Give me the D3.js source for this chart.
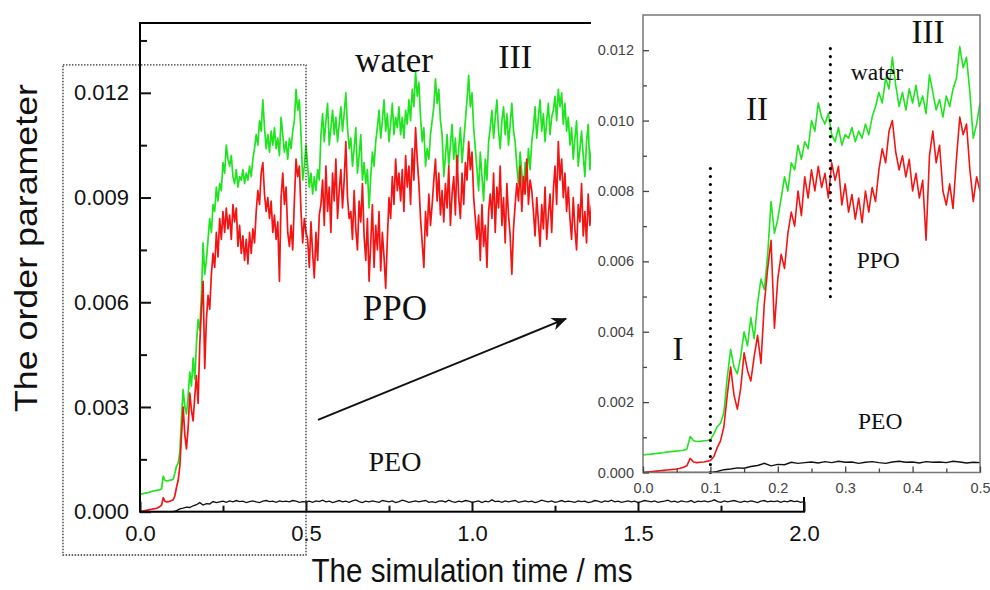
<!DOCTYPE html>
<html>
<head>
<meta charset="utf-8">
<script src="https://cdn.jsdelivr.net/npm/d3@7"></script>
<style>
  body { margin: 0; background: #fff; }
  svg { display: block; }
</style>
</head>
<body>
<div id="chart"></div>
<script>
// order parameter samples, in units of 1e-4
const unit = 1e-4
const stepWP = 0.005   // ms between water / PPO samples
const stepPEO = 0.01   // ms between PEO samples

const water = [
  5.0, 5.1, 5.2, 5.3, 5.4, 5.5, 5.6, 5.8, 5.9, 6.0, 6.1, 6.2, 6.3, 6.6, 10.2, 9.0, 8.8, 8.9, 9.0, 9.1, 9.3,
  11, 13, 14, 17, 27, 35, 30, 28, 33, 40,
  36, 44, 38, 48, 55, 52, 62, 77, 68, 72,
  78, 84, 80, 88, 86, 93, 89, 94, 92, 100,
  97, 105, 101, 99, 102, 96, 94, 98, 93, 96,
  95, 98, 94, 97, 95, 99, 96, 101, 104, 108,
  105, 112, 109, 118, 110, 104, 108, 103, 109, 105,
  110, 104, 107, 102, 113, 108, 103, 106, 101, 107,
  104, 109, 112, 121, 115, 118, 108, 95, 99, 105,
  99, 93, 97, 91, 96, 92, 98, 95,
  108, 114, 106, 112, 117, 105, 110, 115, 108, 113, 106, 111, 116, 109, 114, 120, 110, 104,
  107, 99, 104, 110, 97, 102, 108, 95, 100, 94, 98, 87, 96, 103, 99, 106,
  110, 115, 107, 112, 118, 109, 114, 106, 111, 117, 108, 113, 110, 116,
  108, 113, 107, 115, 111, 118, 112, 121, 116, 126, 119, 123,
  113, 106, 110, 99, 104, 101, 108, 112,
  116, 124, 117, 121, 112, 108,
  96, 102, 108, 99, 105, 111, 101, 107, 97, 104, 110, 100, 106, 112,
  118, 125, 116, 120, 110, 104,
  98, 92, 103, 96, 89, 101, 95, 106,
  110, 115, 107, 113, 118, 109, 104, 112, 116, 108, 114, 105, 111, 117, 109, 106,
  99, 94, 103, 97, 91, 100, 95, 104, 98, 106,
  110, 116, 107, 113, 118, 109, 114, 106, 112, 117, 108, 113,
  115, 119, 112, 121, 116, 120, 111, 117, 109, 113,
  105, 110, 101, 107, 112, 99, 104, 109, 102, 96, 106, 111, 98, 104
]

const ppo = [
  0, 0.1, 0.2, 0.3, 0.4, 0.5, 0.6, 0.7, 0.8, 0.9, 1.0, 1.2, 1.5, 1.9, 4.0, 3.0, 2.8, 2.9, 3.0, 3.2, 3.4,
  4.5, 7, 9, 13, 22, 30, 22, 18, 24, 34,
  29, 26, 33, 39, 31, 48, 58, 66, 41, 55,
  62, 58, 68, 74, 70, 80, 73, 84, 78, 86,
  80, 87, 81, 85, 78, 88, 83, 87, 76, 82,
  74, 79, 72, 78, 71, 80, 74, 81, 77, 86,
  92, 88, 97, 100, 91, 86, 90, 84, 89, 80,
  85, 78, 83, 66, 90, 97, 88, 93, 80, 76,
  82, 75, 89, 101, 96, 99, 86, 77, 84, 80,
  78, 70, 83, 74, 67, 80, 72, 85,
  88, 95, 82, 99, 86, 93, 80, 97, 89, 101, 84, 92, 98, 87, 95, 106, 90, 84,
  86, 78, 92, 81, 75, 89, 83, 94, 79, 72, 84, 66, 77, 88, 70, 82,
  75, 86, 69, 80, 73, 64, 78, 90, 84, 96, 88, 101, 92, 97,
  89, 98, 86, 102, 93, 99, 88, 104, 95, 110, 101, 94,
  84, 77, 70, 86, 79, 91, 82, 88,
  95, 101, 89, 97, 85, 92,
  83, 94, 87, 99, 82, 91, 96, 85, 102, 90, 84, 97, 88, 100,
  95, 106, 98, 103, 90, 84,
  78, 85, 72, 88, 76, 82, 70, 86,
  91, 84, 97, 80, 93, 87, 99, 82, 90, 77, 94, 85, 79, 68, 81, 88,
  94, 89, 99, 86, 96, 91, 101, 88, 95, 92,
  86, 79, 90, 83, 76, 88, 81, 93, 78, 85, 91, 80,
  92, 99, 88, 106, 95, 101, 90, 97, 86, 93,
  84, 78, 90, 81, 75, 88, 83, 94, 79, 86, 77, 91, 82, 88
]

const peo = [
  0, 0, 0, 0, 0, 0, 0, 0, 0, 0, 0,
  0.3, 0.8, 1.0, 1.3, 1.2, 1.7, 2.0, 2.6, 1.9, 2.3,
  2.2, 2.9, 2.6, 2.8, 3.0, 2.7, 3.1, 2.8, 3.2, 2.9,
  3.0, 2.6, 2.9, 3.1, 2.8, 2.6, 3.0, 3.2, 2.9, 3.0,
  2.7, 3.1, 2.9, 3.0, 2.8, 3.2, 3.0, 2.7, 2.9, 2.8,
  3.0, 2.7, 3.1, 2.9, 3.3, 2.8, 3.0, 2.6, 2.9, 3.2,
  2.8, 3.0, 2.7, 3.1, 3.4, 2.9, 2.6, 3.0, 2.8, 3.1,
  2.9, 2.7, 3.2, 3.0, 2.8, 3.1, 2.6, 2.9, 3.3, 3.0,
  2.7, 2.9, 3.1, 2.8, 3.0, 3.2, 2.7, 2.9, 2.6, 3.0,
  3.1, 2.8, 3.3, 2.9, 2.7, 3.0, 2.8, 3.2, 3.0, 2.7,
  2.9, 3.1, 2.6, 3.0, 2.8, 3.4, 2.9, 3.0, 2.7, 3.1,
  2.8, 3.0, 3.2, 2.7, 2.9, 3.1, 2.8, 3.0, 2.6, 2.9,
  3.3, 3.0, 2.8, 3.1, 2.7, 2.9, 3.2, 2.8, 3.0, 2.9,
  2.7, 3.1, 2.9, 3.0, 2.6, 2.8, 3.2, 3.0, 2.7, 3.1,
  2.9, 3.3, 2.8, 3.0, 2.7, 2.9, 3.1, 2.8, 3.0, 2.6,
  2.9, 3.2, 3.0, 2.8, 3.1, 2.7, 2.9, 3.0, 3.3, 2.8,
  3.0, 2.7, 3.1, 2.9, 2.8, 3.2, 2.6, 3.0, 2.9, 3.1,
  2.8, 3.0, 3.4, 2.9, 2.7, 3.1, 2.8, 3.0, 3.2, 2.9,
  2.7, 3.0, 2.8, 3.1, 2.9, 2.6, 3.0, 3.2, 2.8, 3.0,
  2.9, 3.1, 2.7, 3.0, 2.8, 3.2, 2.9, 3.0, 2.7, 2.9
]

const mainXTicks = [0, 0.5, 1.0, 1.5, 2.0]
const mainXMinor = [0.25, 0.75, 1.25, 1.75]
const mainYTicks = [0, 0.003, 0.006, 0.009, 0.012]
const mainYMinor = [0.0015, 0.0045, 0.0075, 0.0105, 0.0135]
const insetXTicks = [0, 0.1, 0.2, 0.3, 0.4, 0.5]
const insetXMinor = [0.05, 0.15, 0.25, 0.35, 0.45]
const insetYTicks = [0, 0.002, 0.004, 0.006, 0.008, 0.010, 0.012]
const insetYMinor = [0.001, 0.003, 0.005, 0.007, 0.009, 0.011]

// annotations in data coords
const mainNotes = [
  { text: "water", t: 0.765, v: 0.0126, size: 35 },
  { text: "III", t: 1.13, v: 0.01272, size: 34 },
  { text: "PPO", t: 0.768, v: 0.0055, size: 35 },
  { text: "PEO", t: 0.768, v: 0.00117, size: 28 }
]
const insetNotes = [
  { text: "III", t: 0.423, v: 0.0122, size: 33 },
  { text: "II", t: 0.169, v: 0.01002, size: 33 },
  { text: "water", t: 0.347, v: 0.01115, size: 23.5 },
  { text: "PPO", t: 0.349, v: 0.00581, size: 23.5 },
  { text: "PEO", t: 0.352, v: 0.00124, size: 23.5 },
  { text: "I", t: 0.052, v: 0.0032, size: 33 }
]
const dividers = [
  { t: 0.1, v0: 0, v1: 0.0087 },
  { t: 0.278, v0: 0.005, v1: 0.0122 }
]
const arrowFrom = { t: 0.536, v: 0.00263 }, arrowTo = { t: 1.283, v: 0.00553 }
const zoomBox = { t0: -0.232, t1: 0.5, v0: -0.00124, v1: 0.0128 }

const sans = "'Liberation Sans', Arial, sans-serif"
const serif = "'Liberation Serif', 'Times New Roman', serif"
const green = "#1fe41f", red = "#f31414"

let svg = d3.select("#chart").append("svg").attr("width", 990).attr("height", 590)

let x = d3.scaleLinear().domain([0, 2]).range([140, 804])
let y = d3.scaleLinear().domain([0, 0.014]).range([511.7, 23])
let xi = d3.scaleLinear().domain([0, 0.5]).range([643, 980])
let yi = d3.scaleLinear().domain([0, 0.013]).range([472.5, 15])

let toPts = (vals, step) => vals.map((v, i) => ({ t: i * step, v: v * unit }))
let wPts = toPts(water, stepWP), pPts = toPts(ppo, stepWP), ePts = toPts(peo, stepPEO)

// ---------- main panel
let mainLine = d3.line().x(d => x(d.t)).y(d => y(d.v))
svg.append("path").attr("d", mainLine(ePts)).attr("fill", "none").attr("stroke", "#111").attr("stroke-width", 1.3)
svg.append("path").attr("d", mainLine(wPts)).attr("fill", "none").attr("stroke", green).attr("stroke-width", 1.7)
  .attr("stroke-linejoin", "round")
svg.append("path").attr("d", mainLine(pPts)).attr("fill", "none").attr("stroke", red).attr("stroke-width", 1.7)
  .attr("stroke-linejoin", "round")

svg.append("rect").attr("x", x(0)).attr("y", y(0.014))
  .attr("width", x(2) - x(0)).attr("height", y(0) - y(0.014))
  .attr("fill", "none").attr("stroke", "#000").attr("stroke-width", 2)

function styleAxis(g, size, color, sw) {
  g.select(".domain").remove()
  g.attr("font-size", size).attr("font-family", sans)
  g.selectAll("line").attr("stroke", color).attr("stroke-width", sw)
  g.selectAll("text").attr("fill", color)
}

let gx = svg.append("g").attr("transform", `translate(0,${y(0)})`)
  .call(d3.axisBottom(x).tickValues(mainXTicks).tickFormat(d3.format(".1f")).tickSize(-10).tickPadding(14))
styleAxis(gx, 22, "#111", 2)
let gxm = svg.append("g").attr("transform", `translate(0,${y(0)})`)
  .call(d3.axisBottom(x).tickValues(mainXMinor).tickFormat("").tickSize(-6))
styleAxis(gxm, 22, "#111", 2)
let gy = svg.append("g").attr("transform", `translate(${x(0)},0)`)
  .call(d3.axisLeft(y).tickValues(mainYTicks).tickFormat(d3.format(".3f")).tickSize(-11).tickPadding(11))
styleAxis(gy, 22, "#111", 2)
let gym = svg.append("g").attr("transform", `translate(${x(0)},0)`)
  .call(d3.axisLeft(y).tickValues(mainYMinor).tickFormat("").tickSize(-7))
styleAxis(gym, 22, "#111", 2)

svg.selectAll(".mainNote").data(mainNotes).enter().append("text")
  .attr("x", d => x(d.t)).attr("y", d => y(d.v))
  .attr("text-anchor", "middle").attr("font-family", serif)
  .attr("font-size", d => d.size).attr("fill", "#111")
  .text(d => d.text)

// arrow to the inset
svg.append("defs").append("marker").attr("id", "head")
  .attr("viewBox", "0 0 12 10").attr("refX", 11).attr("refY", 5)
  .attr("markerWidth", 17).attr("markerHeight", 13).attr("markerUnits", "userSpaceOnUse")
  .attr("orient", "auto")
  .append("path").attr("d", "M0,0 L12,5 L0,10 L3.5,5 Z").attr("fill", "#111")
svg.append("line")
  .attr("x1", x(arrowFrom.t)).attr("y1", y(arrowFrom.v))
  .attr("x2", x(arrowTo.t)).attr("y2", y(arrowTo.v))
  .attr("stroke", "#111").attr("stroke-width", 2).attr("marker-end", "url(#head)")

// dotted zoom box
svg.append("rect")
  .attr("x", x(zoomBox.t0)).attr("y", y(zoomBox.v1))
  .attr("width", x(zoomBox.t1) - x(zoomBox.t0)).attr("height", y(zoomBox.v0) - y(zoomBox.v1))
  .attr("fill", "none").attr("stroke", "#333").attr("stroke-width", 1.3).attr("stroke-dasharray", "1.5 1.5")

// axis titles
svg.append("text").attr("x", 472).attr("y", 582).attr("text-anchor", "middle")
  .attr("font-family", sans).attr("font-size", 33)
  .attr("textLength", 321).attr("lengthAdjust", "spacingAndGlyphs")
  .attr("fill", "#111").text("The simulation time / ms")
svg.append("text").attr("transform", "translate(37,248) rotate(-90)").attr("text-anchor", "middle")
  .attr("font-family", sans).attr("font-size", 32)
  .attr("textLength", 328).attr("lengthAdjust", "spacingAndGlyphs")
  .attr("fill", "#111").text("The order parameter")

// ---------- inset
let inset = svg.append("g")
inset.append("rect").attr("x", 591).attr("y", 0).attr("width", 399).attr("height", 497).attr("fill", "#fff")
inset.append("clipPath").attr("id", "insetClip").append("rect")
  .attr("x", xi(0)).attr("y", yi(0.013)).attr("width", xi(0.5) - xi(0)).attr("height", yi(0) - yi(0.013))

let insetLine = d3.line().x(d => xi(d.t)).y(d => yi(d.v))
let lines = inset.append("g").attr("clip-path", "url(#insetClip)")
lines.append("path").attr("d", insetLine(ePts.filter(d => d.t <= 0.5001)))
  .attr("fill", "none").attr("stroke", "#111").attr("stroke-width", 1.4)
lines.append("path").attr("d", insetLine(wPts.filter(d => d.t <= 0.5001)))
  .attr("fill", "none").attr("stroke", green).attr("stroke-width", 1.6).attr("stroke-linejoin", "round")
lines.append("path").attr("d", insetLine(pPts.filter(d => d.t <= 0.5001)))
  .attr("fill", "none").attr("stroke", red).attr("stroke-width", 1.6).attr("stroke-linejoin", "round")

inset.selectAll(".divider").data(dividers).enter().append("line")
  .attr("x1", d => xi(d.t)).attr("x2", d => xi(d.t))
  .attr("y1", d => yi(d.v0)).attr("y2", d => yi(d.v1))
  .attr("stroke", "#000").attr("stroke-width", 3.2)
  .attr("stroke-linecap", "round").attr("stroke-dasharray", "0 8")

inset.append("rect").attr("x", xi(0)).attr("y", yi(0.013))
  .attr("width", xi(0.5) - xi(0)).attr("height", yi(0) - yi(0.013))
  .attr("fill", "none").attr("stroke", "#777").attr("stroke-width", 1.5)

let ix = inset.append("g").attr("transform", `translate(0,${yi(0)})`)
  .call(d3.axisBottom(xi).tickValues(insetXTicks).tickFormat(d3.format(".1f")).tickSize(-6).tickPadding(10))
styleAxis(ix, 14.5, "#444", 1.3)
let ixm = inset.append("g").attr("transform", `translate(0,${yi(0)})`)
  .call(d3.axisBottom(xi).tickValues(insetXMinor).tickFormat("").tickSize(-4))
styleAxis(ixm, 14.5, "#444", 1.3)
let iy = inset.append("g").attr("transform", `translate(${xi(0)},0)`)
  .call(d3.axisLeft(yi).tickValues(insetYTicks).tickFormat(d3.format(".3f")).tickSize(-6).tickPadding(9))
styleAxis(iy, 14.5, "#444", 1.3)
let iym = inset.append("g").attr("transform", `translate(${xi(0)},0)`)
  .call(d3.axisLeft(yi).tickValues(insetYMinor).tickFormat("").tickSize(-4))
styleAxis(iym, 14.5, "#444", 1.3)

inset.selectAll(".insetNote").data(insetNotes).enter().append("text")
  .attr("x", d => xi(d.t)).attr("y", d => yi(d.v))
  .attr("text-anchor", "middle").attr("font-family", serif)
  .attr("font-size", d => d.size).attr("fill", "#111")
  .text(d => d.text)
</script>
</body>
</html>
